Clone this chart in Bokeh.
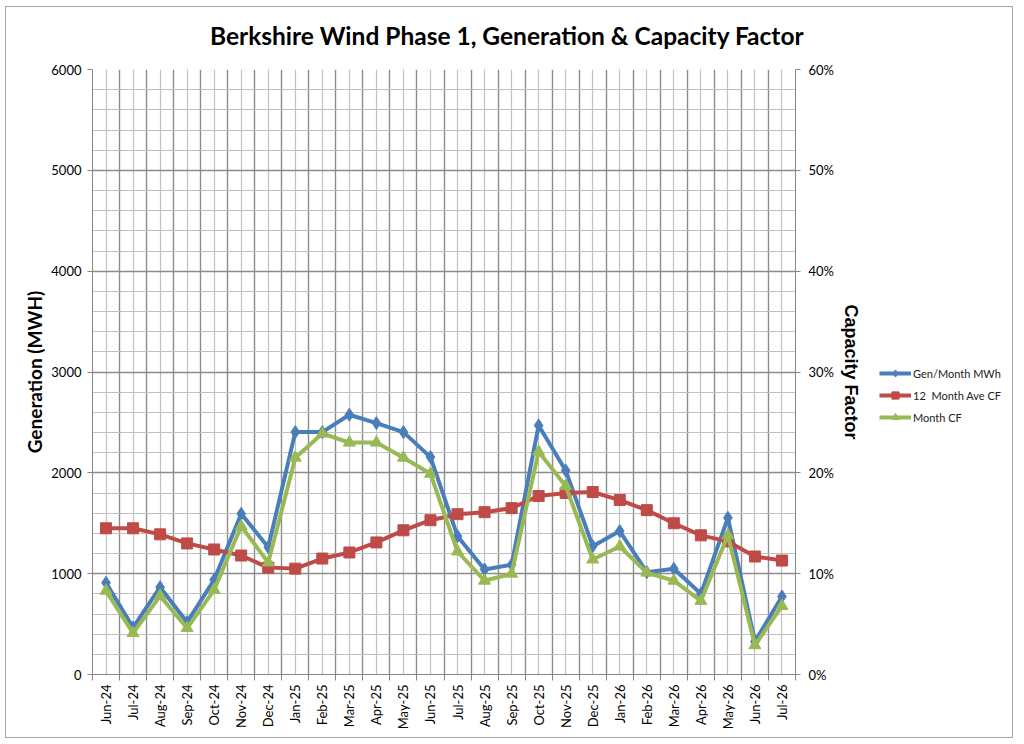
import numpy as np
from bokeh.plotting import figure
from bokeh.layouts import row, column
from bokeh.models import (LinearAxis, Range1d, FixedTicker, NumeralTickFormatter,
                          Legend, LegendItem, ColumnDataSource, Div)
from bokeh.embed import file_html
from bokeh.resources import INLINE

title_text = "Berkshire Wind Phase 1, Generation &amp; Capacity Factor"
months = ["Jun-24", "Jul-24", "Aug-24", "Sep-24", "Oct-24", "Nov-24", "Dec-24",
          "Jan-25", "Feb-25", "Mar-25", "Apr-25", "May-25", "Jun-25", "Jul-25",
          "Aug-25", "Sep-25", "Oct-25", "Nov-25", "Dec-25", "Jan-26", "Feb-26",
          "Mar-26", "Apr-26", "May-26", "Jun-26", "Jul-26"]
gen_mwh = [910, 465, 866, 519, 939, 1594, 1263, 2404, 2404, 2576, 2493, 2404, 2156,
           1372, 1042, 1088, 2470, 2024, 1273, 1422, 1015, 1048, 800, 1554, 327, 774]
ave_cf = [0.145, 0.145, 0.139, 0.130, 0.124, 0.118, 0.106, 0.105, 0.115, 0.121,
          0.131, 0.143, 0.153, 0.159, 0.161, 0.165, 0.177, 0.180, 0.181, 0.173,
          0.163, 0.150, 0.138, 0.132, 0.117, 0.113]
month_cf = [0.083, 0.041, 0.078, 0.046, 0.084, 0.147, 0.111, 0.215, 0.239, 0.230,
            0.230, 0.215, 0.199, 0.122, 0.093, 0.100, 0.221, 0.187, 0.114, 0.127,
            0.101, 0.093, 0.073, 0.138, 0.029, 0.068]
series_names = ["Gen/Month MWh", "12  Month Ave CF", "Month CF"]
gen_ticks = [0, 1000, 2000, 3000, 4000, 5000, 6000]
cf_ticks = [0.0, 0.1, 0.2, 0.3, 0.4, 0.5, 0.6]

n = len(months)
xpos = [i + 0.5 for i in range(n)]
src = ColumnDataSource(dict(x=xpos, gen=gen_mwh, ave=ave_cf, mcf=month_cf))

FONT = "Lato"
BLUE = "#4A7EBB"
RED = "#BE4B48"
GREEN = "#98B954"

title = Div(text=('<div style="padding:15px 0 0 204px; font-family:Lato; font-size:24.5px; '
                  'font-weight:bold; line-height:28px; white-space:nowrap; color:black;">'
                  + title_text + '</div>'),
            width=1006, height=50, margin=0)

p = figure(frame_width=703, frame_height=605, x_range=Range1d(0, n), y_range=Range1d(0, 6000),
           output_backend="svg", toolbar_location=None, title=None,
           min_border_left=86, min_border_right=75, min_border_top=12, min_border_bottom=63,
           background_fill_color="white", border_fill_color="white")
p.outline_line_color = None

# grids
p.xgrid.ticker = FixedTicker(ticks=list(range(n + 1)), minor_ticks=xpos)
p.xgrid.grid_line_color = "#8c8c8c"
p.xgrid.grid_line_width = 1.4
p.xgrid.minor_grid_line_color = "#c0c0c0"
p.xgrid.minor_grid_line_width = 1.2
p.ygrid.ticker = FixedTicker(ticks=gen_ticks, minor_ticks=list(range(0, 6001, 200)))
p.ygrid.grid_line_color = "#8c8c8c"
p.ygrid.grid_line_width = 1.4
p.ygrid.minor_grid_line_color = "#c0c0c0"
p.ygrid.minor_grid_line_width = 1.2

# x axis
xa = p.xaxis[0]
xa.ticker = FixedTicker(ticks=xpos, minor_ticks=list(range(n + 1)))
xa.major_label_overrides = {x: m for x, m in zip(xpos, months)}
xa.major_label_orientation = np.pi / 2
xa.major_tick_line_color = None
xa.minor_tick_out = 6
xa.minor_tick_in = 0
xa.minor_tick_line_color = "#868686"
xa.axis_line_color = "#868686"
xa.major_label_text_font = FONT
xa.major_label_text_font_size = "13px"
xa.major_label_text_color = "black"
xa.major_label_standoff = 4

# left axis
ya = p.yaxis[0]
ya.ticker = FixedTicker(ticks=gen_ticks)
ya.axis_label = "Generation (MWH)"
ya.axis_label_text_font = FONT
ya.axis_label_text_font_size = "19px"
ya.axis_label_text_font_style = "bold"
ya.axis_label_text_color = "black"
ya.axis_label_standoff = 2
ya.major_label_text_font = FONT
ya.major_label_text_font_size = "13px"
ya.major_label_text_color = "black"
ya.major_label_standoff = 6
ya.major_tick_out = 5
ya.major_tick_in = 0
ya.major_tick_line_color = "#868686"
ya.minor_tick_line_color = None
ya.axis_line_color = "#868686"

# right axis
p.extra_y_ranges = {"cf": Range1d(0, 0.6)}
ra = LinearAxis(y_range_name="cf", ticker=FixedTicker(ticks=cf_ticks),
                formatter=NumeralTickFormatter(format="0%"))
ra.axis_label = "Capacity Factor"
ra.axis_label_text_font = "Liberation Sans"
ra.axis_label_text_font_size = "18px"
ra.axis_label_text_font_style = "bold"
ra.axis_label_text_color = "black"
ra.axis_label_standoff = 4
ra.major_label_text_font = FONT
ra.major_label_text_font_size = "13px"
ra.major_label_text_color = "black"
ra.major_label_standoff = 8
ra.major_tick_out = 5
ra.major_tick_in = 0
ra.major_tick_line_color = "#868686"
ra.minor_tick_line_color = None
ra.axis_line_color = "#868686"
p.add_layout(ra, "right")

p.line("x", "gen", source=src, color=BLUE, line_width=4)
p.scatter("x", "gen", source=src, marker="diamond", size=13, color=BLUE)
p.line("x", "ave", source=src, y_range_name="cf", color=RED, line_width=4)
p.scatter("x", "ave", source=src, y_range_name="cf", marker="square", size=11, color=RED)
p.line("x", "mcf", source=src, y_range_name="cf", color=GREEN, line_width=4)
p.scatter("x", "mcf", source=src, y_range_name="cf", marker="triangle", size=12, color=GREEN)

# legend panel (separate narrow figure to the right); its proxy renderers use the
# generation column, which lies far outside this panel's 0..1 range, so only the
# legend swatches show.
lg = figure(width=142, height=680, x_range=Range1d(0, 1), y_range=Range1d(0, 1),
            output_backend="svg", toolbar_location=None, min_border=0,
            background_fill_color="white", border_fill_color="white")
lg.axis.visible = False
lg.grid.visible = False
lg.outline_line_color = None
items = []
for name, col, mk, sz in zip(series_names, [BLUE, RED, GREEN],
                             ["diamond", "square", "triangle"], [9, 8, 8]):
    r1 = lg.line("x", "gen", source=src, color=col, line_width=4)
    r2 = lg.scatter("x", "gen", source=src, marker=mk, size=sz, color=col)
    items.append(LegendItem(label=name, renderers=[r1, r2]))
legend = Legend(items=items, location=(9, 248), glyph_width=32, glyph_height=18, spacing=4,
                label_text_font=FONT, label_text_font_size="11px",
                label_text_color="#222222", label_standoff=2,
                margin=0, border_line_color=None, background_fill_alpha=0, padding=2)
lg.add_layout(legend, "center")

layout = column(title, row(p, lg),
                styles={"border": "1px solid #a6a6a6", "margin-left": "5px",
                        "margin-top": "6px", "background-color": "white"})

open("out.html", "w").write(file_html(layout, INLINE))
